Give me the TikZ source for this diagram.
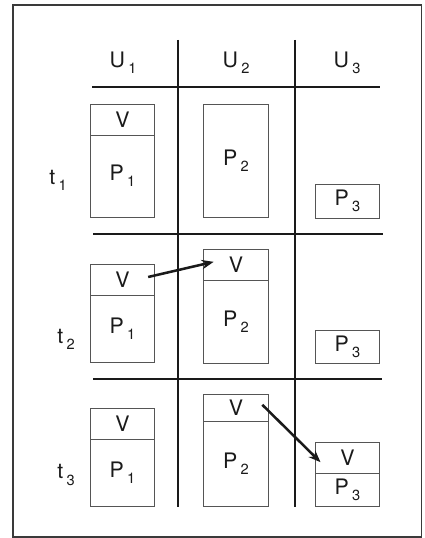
\documentclass[tikz,border=0pt]{standalone}
\usepackage{fontspec}
\setmainfont{TeX Gyre Heros}
\usepackage{tikz}
\usetikzlibrary{positioning,arrows.meta}
\definecolor{Ink}{HTML}{1A1A1A}
\definecolor{BoxLine}{HTML}{555555}
\definecolor{Frame}{HTML}{3A3A3A}
\tikzset{
  cell/.style={draw=BoxLine,line width=0.65pt,minimum width=48.5pt,inner sep=0pt,
    outer sep=0pt,font=\fontsize{16}{18}\selectfont,text=Ink},
  vcell/.style={cell,minimum height=23.25pt},
  hd/.style={font=\fontsize{16}{18}\selectfont,text=Ink,inner sep=0pt},
  grid/.style={draw=Ink,line width=1.8pt},
  mv/.style={-{Stealth[length=9pt,width=7pt]},draw=Ink,line width=1.9pt},
}
\newcommand{\idx}[1]{\hspace{2.5pt}\raisebox{-0.55ex}{\fontsize{11}{11}\selectfont #1}}

\begin{document}
\begin{tikzpicture}[x=0.75pt,y=-0.75pt]
\useasboundingbox (0,0) rectangle (424,538);
\draw[draw=Frame,line width=1pt] (13,5) rectangle (421.5,537);

\draw[grid] (178,40) -- (178,507);
\draw[grid] (295,40) -- (295,507);
\draw[grid] (92,87) -- (380,87);
\draw[grid] (93,234) -- (383,234);
\draw[grid] (93,379) -- (382,379);

\node[hd] (u1) at (123,63) {U\idx{1}};
\node[hd] (u2) at (236,63) {U\idx{2}};
\node[hd] (u3) at (347,63) {U\idx{3}};
\node[hd] (t1) at (58,180) {t\idx{1}};
\node[hd] (t2) at (66,339) {t\idx{2}};
\node[hd] (t3) at (66,475) {t\idx{3}};

\node[vcell] (v11) at (122.5,119.5) {V};
\node[cell,minimum height=61.5pt,below=0pt of v11] (p11) {P\idx{1}};
\node[cell,minimum height=84.75pt] (p21) at (236,160.5) {P\idx{2}};
\node[cell,minimum height=25.5pt] (p31) at (347.5,201) {P\idx{3}};

\node[vcell] (v12) at (122.5,280) {V};
\node[cell,minimum height=50.25pt,below=0pt of v12] (p12) {P\idx{1}};
\node[vcell] (v22) at (236,264.5) {V};
\node[cell,minimum height=62.25pt,below=0pt of v22] (p22) {P\idx{2}};
\node[cell,minimum height=24.75pt] (p32) at (347.5,346.5) {P\idx{3}};

\node[vcell] (v13) at (122.5,423.5) {V};
\node[cell,minimum height=50.25pt,below=0pt of v13] (p13) {P\idx{1}};
\node[vcell,minimum height=20.25pt] (v23) at (236,407.5) {V};
\node[cell,minimum height=63.75pt,below=0pt of v23] (p23) {P\idx{2}};
\node[vcell] (v33) at (347.5,457.5) {V};
\node[cell,minimum height=24.75pt,below=0pt of v33] (p33) {P\idx{3}};

\draw[mv] ([xshift=-5pt,yshift=2.25pt]v12.east) -- ([xshift=7.5pt,yshift=2pt]v22.west);
\draw[mv] ([xshift=-4.5pt,yshift=2pt]v23.east) -- ([xshift=4pt,yshift=-3.5pt]v33.west);
\end{tikzpicture}
\end{document}
